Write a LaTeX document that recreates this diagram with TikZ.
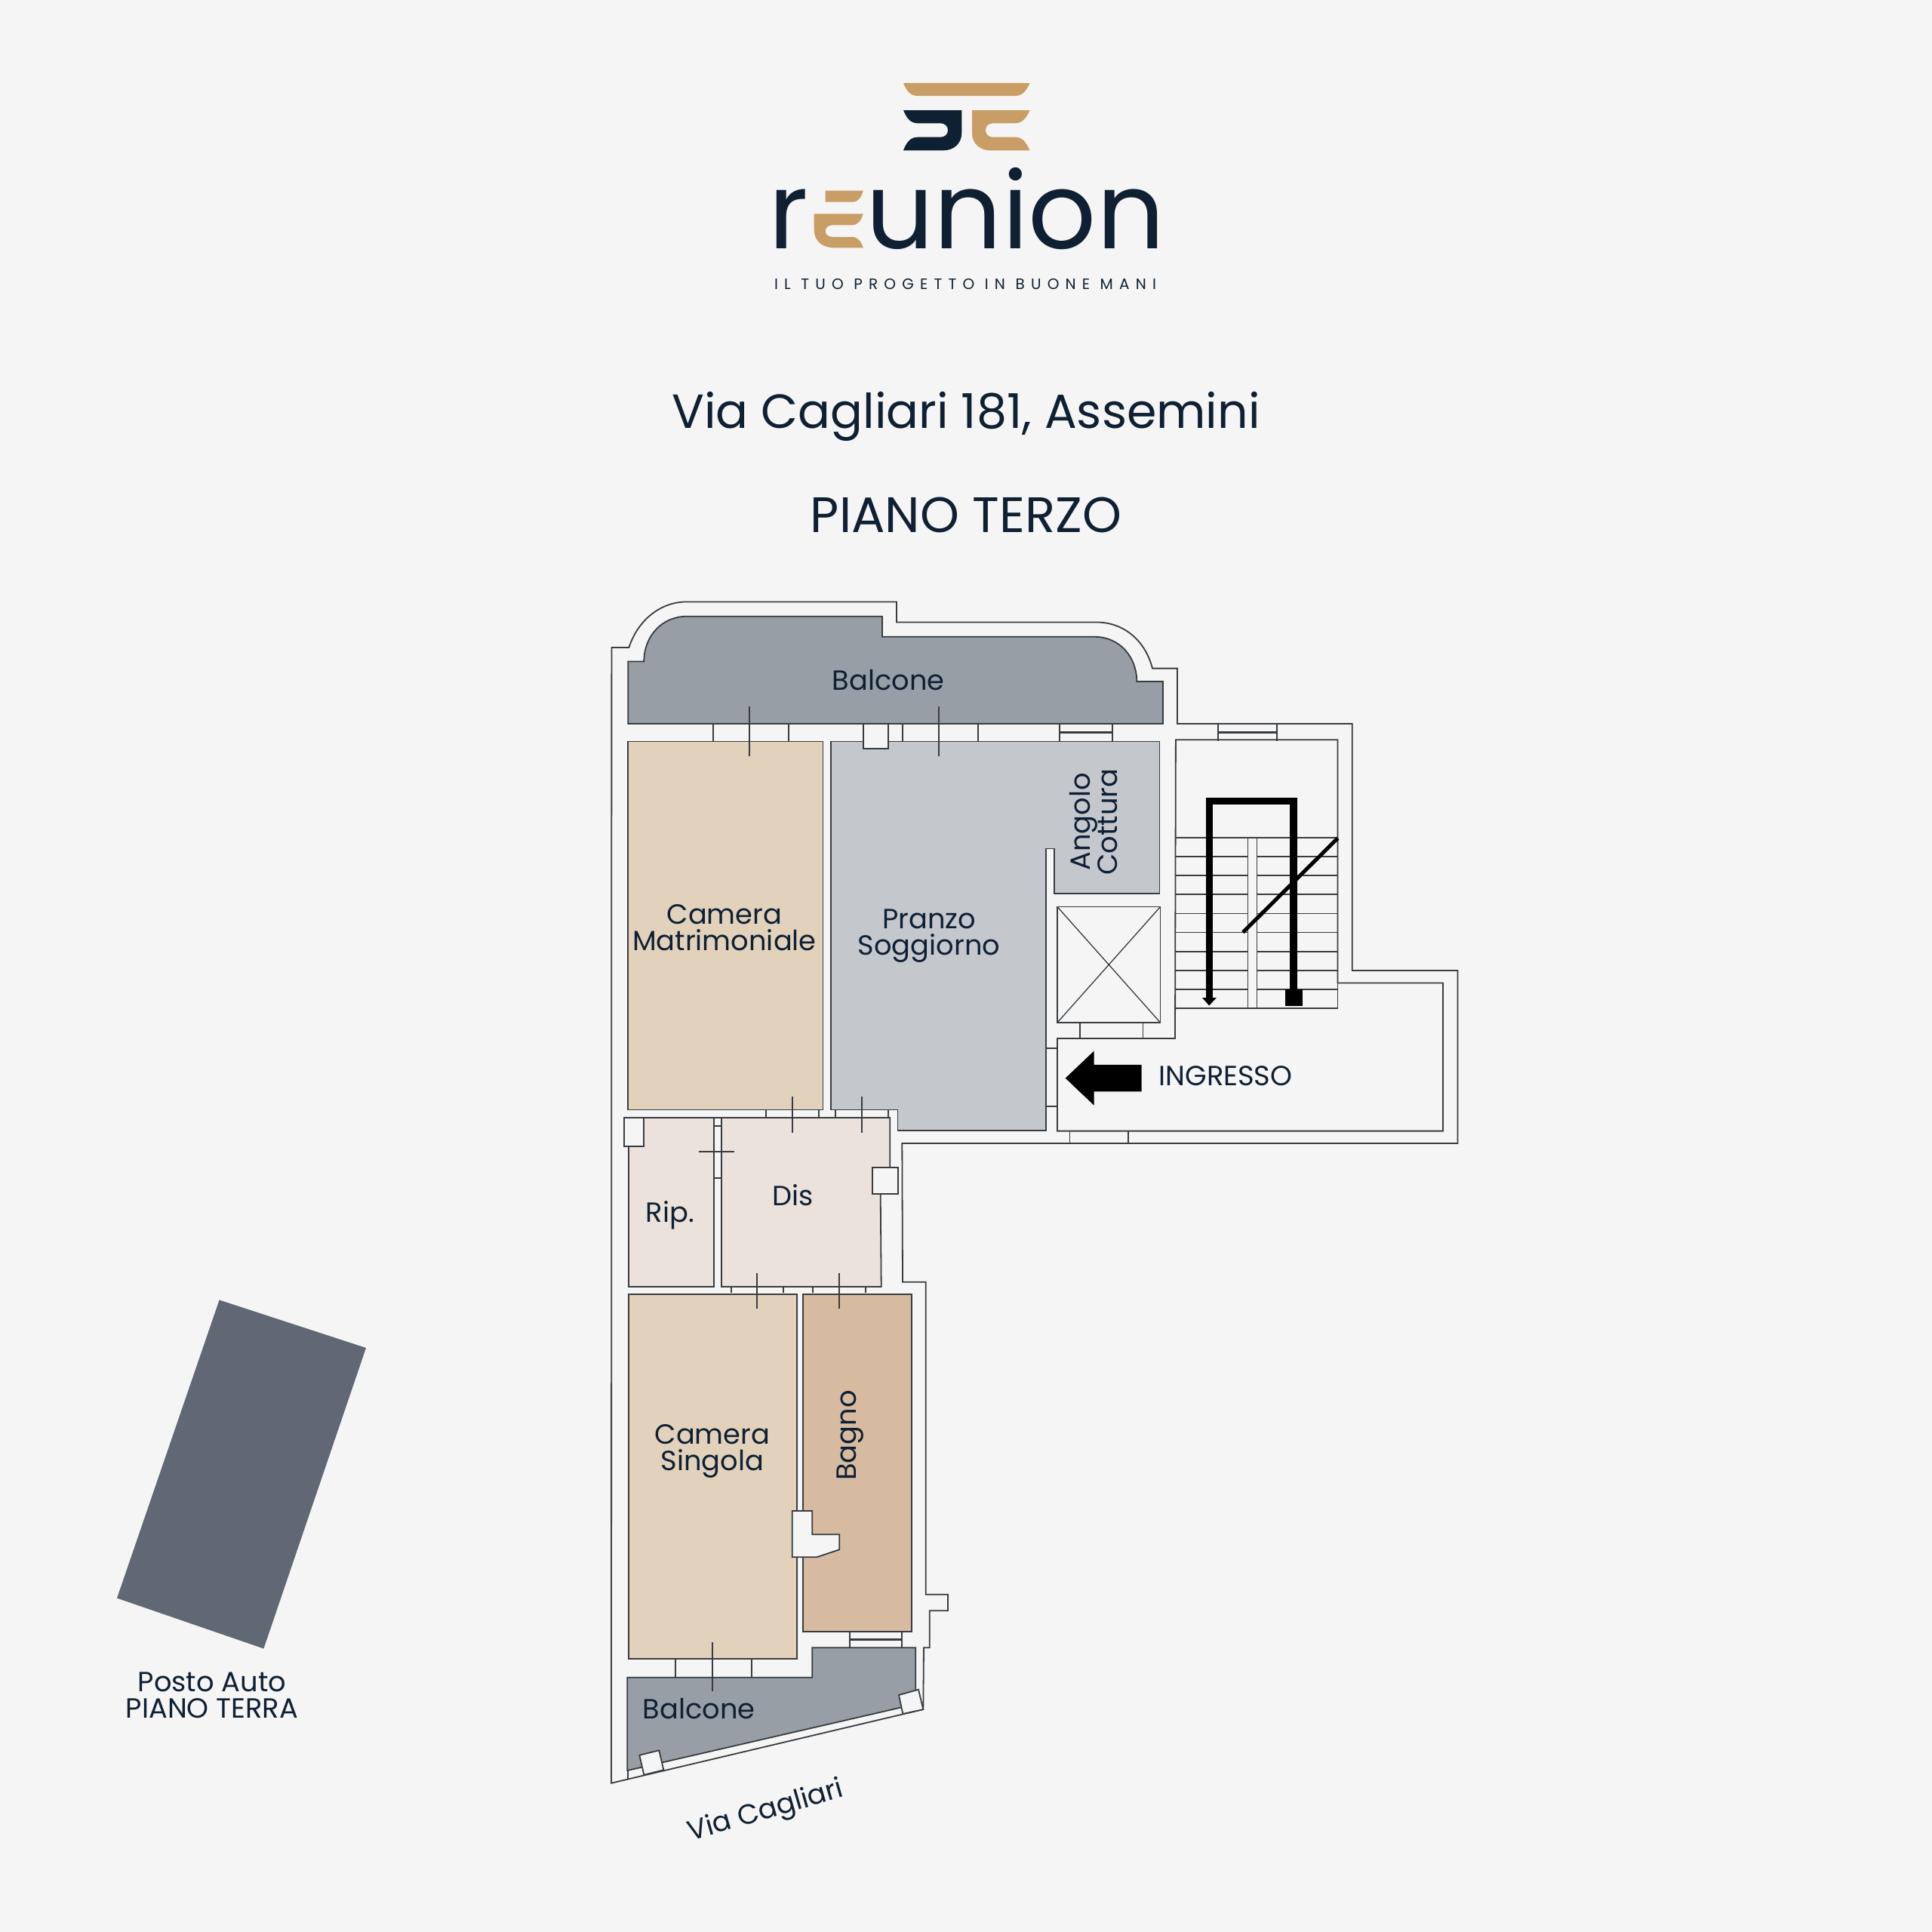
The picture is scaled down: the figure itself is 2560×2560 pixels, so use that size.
\documentclass[tikz,border=0pt]{standalone}
\usepackage{fontspec}
\setmainfont{Poppins}
\definecolor{bg}{HTML}{F5F5F5}
\definecolor{ink}{HTML}{0F2033}
\definecolor{gold}{HTML}{C99E66}
\definecolor{line}{HTML}{383C40}
\definecolor{balc}{HTML}{979EA6}
\definecolor{bed}{HTML}{E2D2BC}
\definecolor{living}{HTML}{C4C8CD}
\definecolor{hall}{HTML}{EBE2DB}
\definecolor{bath}{HTML}{D6BBA0}
\definecolor{park}{HTML}{5F6873}
\tikzset{
  wall/.style={draw=line,line width=1.8pt,line join=miter},
  pillar/.style={wall,fill=bg},
  heavy/.style={draw=black,line width=3pt},
  lbl/.style={text=ink,inner sep=0pt,align=center,font=\fontsize{36.8}{35}\selectfont},
}
\begin{document}
\begin{tikzpicture}[x=1pt,y=-1pt]
\useasboundingbox (0,0) rectangle (2560,2560);
\fill[bg] (0,0) rectangle (2560,2560);
% logo
\fill[gold] (1197,110) -- (1364.6,110) .. controls (1360,120) and (1355,127) .. (1345,127) -- (1216,127) .. controls (1206,127) and (1201,120) .. (1197,110) -- cycle;
\fill[ink] (1197,146) -- (1274.3,146) -- (1274.3,176) .. controls (1274.3,190) and (1264,199.3) .. (1250,199.3) -- (1197,199.3) .. controls (1201,189) and (1206,181.7) .. (1216,181.7) -- (1246,181.7) .. controls (1252,181.7) and (1256,178) .. (1256,172.5) .. controls (1256,167) and (1252,163.3) .. (1246,163.3) -- (1216,163.3) .. controls (1206,163.3) and (1201,156) .. (1197,146) -- cycle;
\fill[gold] (1364.6,146) -- (1288,146) -- (1288,176) .. controls (1288,190) and (1298,199.3) .. (1312,199.3) -- (1364.6,199.3) .. controls (1360,189) and (1355,181.7) .. (1345,181.7) -- (1316,181.7) .. controls (1310,181.7) and (1306,178) .. (1306,172.5) .. controls (1306,167) and (1310,163.3) .. (1316,163.3) -- (1345,163.3) .. controls (1355,163.3) and (1360,156) .. (1364.6,146) -- cycle;
\node[anchor=base west,inner sep=0pt,text=ink,font=\fontsize{141}{141}\selectfont] (logoR) at (1018,329) {r};
\fill[gold] (1093.7,252.7) -- (1143.8,252.7) .. controls (1141,262) and (1137,267.7) .. (1129,267.7) -- (1093.7,267.7) -- cycle;
\fill[gold] (1078.7,283.3) -- (1143.8,283.3) .. controls (1141,292) and (1137,298.3) .. (1129,298.3) -- (1104,298.3) .. controls (1098,298.3) and (1093.7,301) .. (1093.7,306.5) .. controls (1093.7,311) and (1098,314) .. (1104,314) -- (1129,314) .. controls (1137,314) and (1141,320) .. (1143.8,328.3) -- (1106,328.3) .. controls (1090,328.3) and (1078.7,320) .. (1078.7,304) -- cycle;
\node[anchor=base west,inner sep=0pt,text=ink,font=\fontsize{141}{141}\selectfont] (logoW) at (1147.5,329) {union};
\node[text=ink,inner sep=0pt,font=\fontsize{20}{20}\selectfont\addfontfeatures{LetterSpace=41}] (tag) at (1279,376.3) {IL TUO PROGETTO IN BUONE MANI};
% titles
\node[text=ink,inner sep=0pt,font=\fontsize{63.5}{66}\selectfont] (addr) at (1280,552) {Via Cagliari 181, Assemini};
\node[text=ink,inner sep=0pt,font=\fontsize{66}{66}\selectfont] (floor) at (1280,682.5) {PIANO TERZO};
% parking
\fill[park] (290.6,1722.5) -- (485,1786) -- (349.4,2184.5) -- (155,2117.6) -- cycle;
\node[lbl] (parklbl) at (281,2246) {Posto Auto\\PIANO TERRA};
% outer wall
\path[wall,fill=bg] (810.4,858) -- (833.4,858) .. controls (845,822) and (875,797.4) .. (910,797.4) -- (1188,797.4) -- (1188,824.5) -- (1453,824.5) .. controls (1490,824.5) and (1518,850) .. (1527,885.6) -- (1560,885.6) -- (1560,959) -- (1791.7,959) -- (1791.7,1286) -- (1931.4,1286) -- (1931.4,1515) -- (1195.3,1515) -- (1196,1698.7) -- (1226.7,1698.7) -- (1226.7,2112.7) -- (1256,2112.7) -- (1256,2134.3) -- (1231.7,2134.3) -- (1231.7,2183.3) -- (1224,2183.3) -- (1223.3,2265) -- (810,2362.7) -- cycle;
% top balcony
\path[wall,fill=balc] (832.3,876.4) -- (853.3,876.4) .. controls (853.3,843) and (877,816.7) .. (910,816.7) -- (1169,816.7) -- (1169,843.8) -- (1450.7,843.8) .. controls (1483,843.8) and (1506.3,870) .. (1506.3,903) -- (1541,903) -- (1541,959) -- (832.3,959) -- cycle;
% rooms
\path[wall,fill=bed] (832.3,982.5) rectangle (1090.5,1470.5);
\path[wall,fill=living] (1101.2,982.5) -- (1536.4,982.5) -- (1536.4,1184) -- (1396.6,1184) -- (1396.6,1124.4) -- (1386,1124.4) -- (1386,1498) -- (1189.5,1498) -- (1189.5,1470.5) -- (1101.2,1470.5) -- cycle;
\path[wall,fill=hall] (832.7,1481) rectangle (945.7,1705);
\path[wall,fill=hall] (956,1481) -- (1179.3,1481) -- (1179.3,1547.3) -- (1166.7,1582.7) -- (1167.7,1705) -- (956,1705) -- cycle;
\path[wall,fill=bed] (832.7,1715.3) rectangle (1055.7,2197.7);
\path[wall,fill=bath] (1063.7,1715.3) rectangle (1208.3,2162.3);
% lower balcony
\path[wall,fill=balc] (831.3,2222.7) -- (1076.3,2222.7) -- (1076.3,2183.3) -- (1213.3,2183.3) -- (1213.3,2258) -- (831.3,2346) -- cycle;
\draw[wall] (831.7,2346) -- (831.7,2357.5);
% stair hall and lift
\path[wall,fill=bg] (1557.9,980.2) -- (1772.5,980.2) -- (1772.5,1302.5) -- (1911.9,1302.5) -- (1911.9,1498.6) -- (1401,1498.6) -- (1401,1376) -- (1557,1376) -- cycle;
\path[wall,fill=bg] (1401,1201.5) rectangle (1537.5,1355);
\draw[wall,line width=1.3pt] (1401,1201.5) -- (1537.5,1355) (1537.5,1201.5) -- (1401,1355);
\draw[wall] (1431.3,1355) -- (1431.3,1376) (1514.5,1355) -- (1514.5,1376);
\draw[wall] (1386,1389) -- (1401,1389) (1386,1466) -- (1401,1466);
\draw[wall] (1417.4,1498.6) -- (1417.4,1515) (1494.7,1498.6) -- (1494.7,1515);
% door frames
\draw[wall] (944.6,959) -- (944.6,982.5) (1045,959) -- (1045,982.5) (993,936) -- (993,1001.8);
\draw[wall] (1195.6,959) -- (1195.6,982.5) (1296,959) -- (1296,982.5) (1244,936) -- (1244,1001.8);
\draw[wall] (1015.3,1470.5) -- (1015.3,1481) (1085.3,1470.5) -- (1085.3,1481) (1050.3,1453.3) -- (1050.3,1501);
\draw[wall] (1107,1470.5) -- (1107,1481) (1177,1470.5) -- (1177,1481) (1142,1453.3) -- (1142,1501);
\draw[wall] (945.7,1481) -- (956,1481) (945.7,1491.7) -- (956,1491.7) (945.7,1561.3) -- (956,1561.3) (925.7,1526) -- (972.7,1526);
\draw[wall] (968.7,1705) -- (968.7,1713) (1038.3,1705) -- (1038.3,1713) (1003.3,1686.7) -- (1003.3,1734);
\draw[wall] (1077.3,1705) -- (1077.3,1713) (1147.3,1705) -- (1147.3,1713) (1112.3,1686.7) -- (1112.3,1734);
\draw[wall] (895.3,2197.7) -- (895.3,2222.7) (996,2197.7) -- (996,2222.7) (944.3,2175.7) -- (944.3,2241.3);
% windows
\draw[wall] (1403.8,959) -- (1403.8,982.5) (1473.7,959) -- (1473.7,982.5);
\draw[wall,line width=2.6pt] (1403.8,970.5) -- (1473.7,970.5);
\draw[wall] (1613.7,959) -- (1613.7,982) (1691.8,959) -- (1691.8,982);
\draw[wall,line width=2.6pt] (1613.7,970.7) -- (1691.8,970.7);
\draw[wall] (1125.7,2161.7) -- (1125.7,2183.3) (1195.3,2161.7) -- (1195.3,2183.3);
\draw[wall,line width=2.6pt] (1125.7,2172.7) -- (1195.3,2172.7);
% pillars
\path[pillar] (1143.6,959) rectangle (1177.2,992);
\path[pillar] (826.7,1480.7) rectangle (853.3,1518.7);
\path[pillar] (1156.3,1547.3) rectangle (1189.7,1582.3);
\path[pillar] (1049.7,2002) -- (1076.3,2002) -- (1076.3,2033.3) -- (1112.3,2033.3) -- (1112.3,2053.3) -- (1082.3,2063.3) -- (1049.7,2063.3) -- cycle;
\path[pillar] (1191,2246) -- (1217,2238.7) -- (1223.3,2265) -- (1196.3,2271) -- cycle;
\path[pillar] (847.3,2325.7) -- (873.3,2319.3) -- (879.3,2345.3) -- (853.3,2351.7) -- cycle;
% stairs
\foreach \yy in {1110,1135.1,1160.2,1185.3,1210.4,1235.5,1260.6,1285.7,1310.8,1335.7}
  \draw[wall] (1557.9,\yy) -- (1653.5,\yy) (1665.4,\yy) -- (1772.5,\yy);
\path[wall,fill=bg] (1653.5,1110) rectangle (1665.4,1335.7);
\draw[wall] (1557.9,1335.7) -- (1772.5,1335.7) -- (1772.5,1302.5);
\draw[heavy,line width=9.2pt,line join=miter] (1602.2,1323) -- (1602.2,1061.8) -- (1714,1061.8) -- (1714,1312);
\fill[black] (1593,1322) -- (1611.8,1322) -- (1602.2,1332.5) -- cycle;
\fill[black] (1702.5,1310.8) rectangle (1725.5,1332.5);
\draw[heavy,line width=5pt] (1772.5,1110.7) -- (1647,1235.3);
\fill[black] (1411.7,1428.6) -- (1449.6,1392.6) -- (1449.6,1410.8) -- (1512.7,1410.8) -- (1512.7,1446.4) -- (1449.6,1446.4) -- (1449.6,1464.6) -- cycle;
% labels
\node[lbl] (b1) at (1177,901) {Balcone};
\node[lbl] (cm) at (960,1229) {Camera\\Matrimoniale};
\node[lbl] (ps) at (1231,1240) {Pranzo\\Soggiorno};
\node[lbl,rotate=90] (ac) at (1449,1089) {Angolo\\Cottura};
\node[lbl] (rip) at (888,1610) {Rip.};
\node[lbl] (dis) at (1051,1584) {Dis};
\node[lbl,rotate=90] (bagno) at (1127,1902) {Bagno};
\node[lbl] (cs) at (944,1923) {Camera\\Singola};
\node[lbl] (b2) at (926,2264) {Balcone};
\node[lbl] (ing) at (1624,1426) {INGRESSO};
\node[lbl,rotate=16] (via) at (1015,2401) {Via Cagliari};
\end{tikzpicture}
\end{document}
